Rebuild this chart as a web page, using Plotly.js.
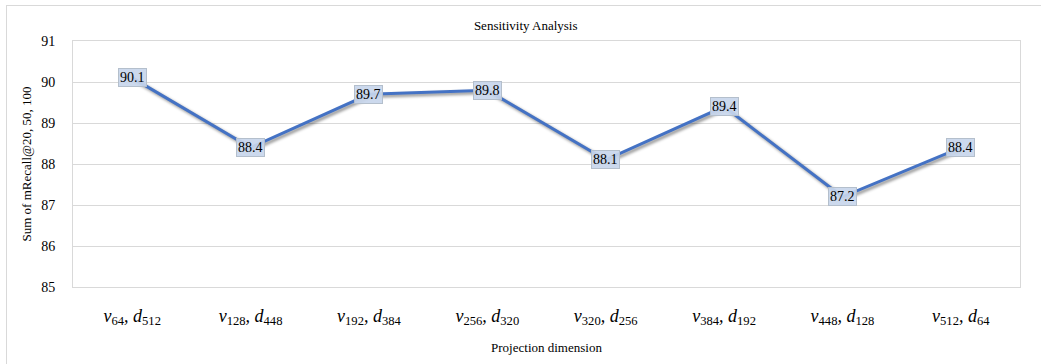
<!DOCTYPE html>
<html>
<head>
<meta charset="utf-8">
<script src="https://cdn.plot.ly/plotly-3.0.1.min.js"></script>
<style>
html,body{margin:0;padding:0;background:#fff;}
#wrap{position:relative;width:1041px;height:364px;overflow:hidden;}
#frame{position:absolute;left:6px;top:5px;width:1100px;height:400px;border-left:1px solid #d9d9d9;border-top:1px solid #d9d9d9;pointer-events:none;z-index:2;}
#chart{position:absolute;left:0;top:0;width:1041px;height:364px;}
.scatterlayer .js-line{filter:drop-shadow(2px 2px 1.5px rgba(0,0,0,0.45));}
</style>
</head>
<body>
<div id="wrap"><div id="chart"></div><div id="frame"></div></div>
<script>
const vSub = ["64","128","192","256","320","384","448","512"];
const dSub = ["512","448","384","320","256","192","128","64"];
const categories = vSub.map((v,i)=>"c"+i);
const tickLabels = vSub.map((v,i)=>"<i>v</i><sub>"+v+"</sub><i>, d</i><sub>"+dSub[i]+"</sub>");
const values = [90.1, 88.4, 89.7, 89.8, 88.1, 89.4, 87.2, 88.4];

const serif = "Liberation Serif, Times New Roman, serif";

const annotations = values.map((v,i)=>({
  x: categories[i], y: v, xref:'x', yref:'y',
  text: v.toFixed(1), showarrow:false,
  font:{family:serif,size:14,color:'#000'},
  bgcolor:'rgba(200,214,236,0.92)', bordercolor:'#b4bfcc', borderwidth:1, borderpad:1
}));

const trace = {
  x: categories, y: values, type:'scatter', mode:'lines',
  line:{color:'#4472C4', width:3}, hoverinfo:'skip'
};

const layout = {
  width:1041, height:364,
  margin:{l:73, r:21, t:41, b:77},
  paper_bgcolor:'rgba(0,0,0,0)', plot_bgcolor:'#fff',
  showlegend:false,
  title:{text:'Sensitivity Analysis', font:{family:serif,size:13,color:'#000'}, x:0.505, xanchor:'center', y:0.93, yanchor:'middle'},
  xaxis:{
    type:'category', tickvals:categories, ticktext:tickLabels,
    range:[-0.5, 7.5], showgrid:false, zeroline:false,
    showline:true, mirror:true, linecolor:'#d9d9d9', linewidth:1,
    ticks:'', tickfont:{family:serif,size:18,color:'#000'}, ticklabelstandoff:12,
    title:{text:'Projection dimension', font:{family:serif,size:13,color:'#000'}, standoff:15}
  },
  yaxis:{
    range:[85,91], dtick:1, tick0:85, showgrid:true, gridcolor:'#d9d9d9', gridwidth:1,
    zeroline:false, showline:true, mirror:true, linecolor:'#d9d9d9', linewidth:1,
    ticks:'', tickfont:{family:serif,size:14,color:'#000'}, ticklabelstandoff:14,
    title:{text:'Sum of mRecall@20, 50, 100', font:{family:serif,size:13,color:'#000'}, standoff:6}
  },
  annotations: annotations
};

Plotly.newPlot('chart',[trace],layout,{displayModeBar:false,staticPlot:true});
</script>
</body>
</html>
